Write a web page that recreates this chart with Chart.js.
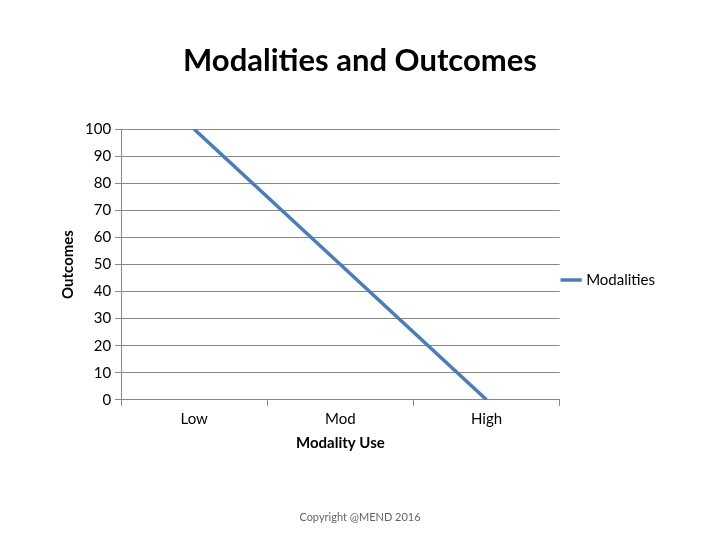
<!DOCTYPE html>
<html><head><script src="https://cdn.jsdelivr.net/npm/chart.js@4"></script>
<style>body{margin:0;background:#fff}</style></head>
<body><canvas id="c" width="720" height="540"></canvas>
<script>
const categories = ["Low", "Mod", "High"];
const modalities = [100, 50, 0];
const yTicks = [0,10,20,30,40,50,60,70,80,90,100];
new Chart(document.getElementById('c'), {
  type: 'line',
  data: { labels: categories, datasets: [{ label: 'Modalities', data: modalities,
    borderColor: '#4a7ebb', backgroundColor: '#4a7ebb', borderWidth: 3.5, pointRadius: 0, tension: 0 }] },
  options: {
    responsive: false, animation: false,
    layout: { padding: { left: 55, right: 55, top: 30, bottom: 10 } },
    plugins: {
      title: { display: true, text: 'Modalities and Outcomes', color: '#000',
        font: { family: 'Lato', size: 31 }, padding: { top: 12, bottom: 50 } },
      subtitle: { display: true, position: 'bottom', text: 'Copyright @MEND 2016', color: '#666',
        font: { family: 'Lato', size: 11 }, padding: { top: 55, bottom: 6 } },
      legend: { position: 'right', labels: { usePointStyle: true, pointStyle: 'line', boxWidth: 22,
        color: '#000', font: { family: 'Lato', size: 15 }, padding: 4 } },
      tooltip: { enabled: false }
    },
    scales: {
      x: { offset: true,
        grid: { offset: true, drawOnChartArea: false, tickLength: 6, color: '#888' },
        border: { color: '#888' },
        ticks: { color: '#000', font: { family: 'Lato', size: 15 }, padding: 4 },
        title: { display: true, text: 'Modality Use', color: '#000', font: { family: 'Lato', size: 15, weight: 'bold' }, padding: { top: 2 } } },
      y: { min: 0, max: 100, afterBuildTicks: a => { a.ticks = yTicks.map(v => ({ value: v })); },
        grid: { color: '#888', tickLength: 6 }, border: { color: '#888' },
        ticks: { color: '#000', font: { family: 'Lato', size: 15 }, padding: 4 },
        title: { display: true, text: 'Outcomes', color: '#000', font: { family: 'Lato', size: 15, weight: 'bold' }, padding: { bottom: 4 } } }
    }
  }
});
</script></body></html>
